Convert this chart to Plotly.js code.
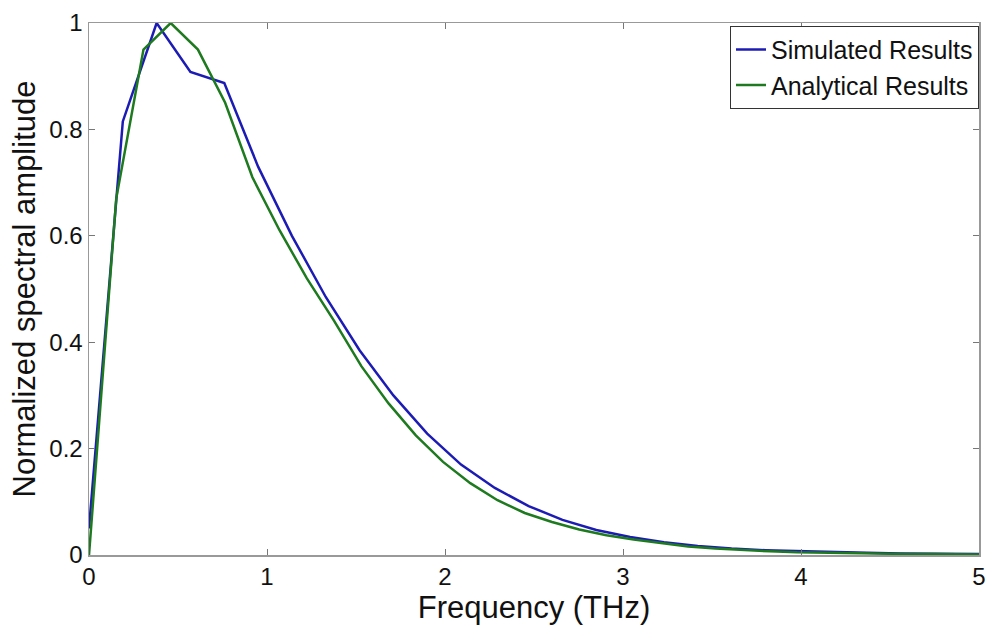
<!DOCTYPE html>
<html>
<head>
<meta charset="utf-8">
<script src="https://cdn.plot.ly/plotly-3.0.1.min.js"></script>
<style>html,body{margin:0;padding:0;background:#fff;}#chart{width:993px;height:625px;}</style>
</head>
<body>
<div id="chart"></div>
<script>
const simFreq = [0, 0.19, 0.38, 0.57, 0.76, 0.95, 1.14, 1.33, 1.52, 1.71, 1.90, 2.09, 2.28, 2.47, 2.66, 2.85, 3.04, 3.23, 3.42, 3.61, 3.80, 3.99, 4.18, 4.37, 4.56, 4.75, 4.94, 5.0];
const simAmp  = [0.05, 0.815, 1.0, 0.908, 0.887, 0.73, 0.60, 0.485, 0.385, 0.30, 0.228, 0.17, 0.126, 0.092, 0.066, 0.047, 0.034, 0.024, 0.017, 0.012, 0.009, 0.007, 0.005, 0.004, 0.003, 0.002, 0.002, 0.002];
const anaFreq = [0, 0.153, 0.306, 0.459, 0.612, 0.765, 0.918, 1.071, 1.224, 1.377, 1.530, 1.683, 1.836, 1.989, 2.142, 2.295, 2.448, 2.601, 2.754, 2.907, 3.060, 3.213, 3.366, 3.519, 3.672, 3.825, 3.978, 4.131, 4.284, 4.437, 4.590, 4.743, 4.896, 5.0];
const anaAmp  = [0, 0.67, 0.95, 1.0, 0.95, 0.85, 0.71, 0.61, 0.52, 0.44, 0.355, 0.285, 0.225, 0.175, 0.135, 0.103, 0.079, 0.062, 0.048, 0.037, 0.029, 0.022, 0.016, 0.012, 0.009, 0.007, 0.005, 0.004, 0.003, 0.003, 0.002, 0.002, 0.001, 0.001];
const xTicks = [0, 1, 2, 3, 4, 5];
const yTicks = [0, 0.2, 0.4, 0.6, 0.8, 1];
const yTickText = ['0', '0.2', '0.4', '0.6', '0.8', '1'];

const traces = [
  {x: simFreq, y: simAmp, type: 'scatter', mode: 'lines', name: 'Simulated Results',
   line: {color: '#1c1cb4', width: 2.5}},
  {x: anaFreq, y: anaAmp, type: 'scatter', mode: 'lines', name: 'Analytical Results',
   line: {color: '#1e7a1e', width: 2.5}}
];
const font = 'Arial, "Liberation Sans", sans-serif';
const layout = {
  width: 993, height: 625,
  margin: {l: 89, r: 14, t: 23, b: 70},
  paper_bgcolor: '#fff', plot_bgcolor: '#fff',
  font: {family: font, color: '#111', size: 20},
  showlegend: true,
  legend: {x: 1, xanchor: 'right', y: 0.995, yanchor: 'top', bordercolor: '#333', borderwidth: 1,
           bgcolor: '#fff', font: {family: font, size: 25, color: '#111'},
           tracegroupgap: 0, itemwidth: 30},
  xaxis: {range: [0, 5], tickvals: xTicks, ticktext: xTicks.map(String), ticks: 'inside', ticklen: 6,
          tickcolor: '#777', showline: true, linecolor: '#999', linewidth: 1.5, mirror: 'ticks',
          showgrid: false, zeroline: false, tickfont: {size: 24},
          title: {text: 'Frequency (THz)', font: {size: 31}, standoff: 0}},
  yaxis: {range: [0, 1], tickvals: yTicks, ticktext: yTickText, ticks: 'inside', ticklen: 6,
          tickcolor: '#777', showline: true, linecolor: '#999', linewidth: 1.5, mirror: 'ticks',
          showgrid: false, zeroline: false, tickfont: {size: 24},
          title: {text: 'Normalized spectral amplitude', font: {size: 31}, standoff: 4}}
};
Plotly.newPlot('chart', traces, layout, {displayModeBar: false, staticPlot: true});
</script>
</body>
</html>
